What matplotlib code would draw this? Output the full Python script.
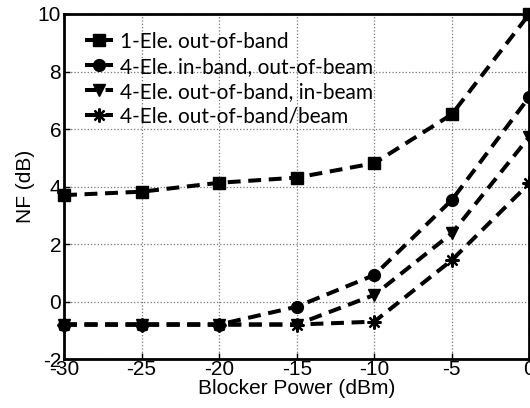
import matplotlib
matplotlib.use('Agg')
import matplotlib.pyplot as plt

# blocker power sweep (dBm)
power = [-30, -25, -20, -15, -10, -5, 0]

nf_1ele_oob = [3.70, 3.82, 4.13, 4.31, 4.81, 6.51, 10.0]
nf_4ele_ib_oobeam = [-0.8, -0.8, -0.8, -0.18, 0.92, 3.53, 7.12]
nf_4ele_oob_ibeam = [-0.8, -0.8, -0.8, -0.8, 0.23, 2.37, 5.73]
nf_4ele_oob_oobeam = [-0.8, -0.8, -0.8, -0.8, -0.70, 1.44, 4.11]

labels = ['1-Ele. out-of-band',
          '4-Ele. in-band, out-of-beam',
          '4-Ele. out-of-band, in-beam',
          '4-Ele. out-of-band/beam']
markers = ['s', 'o', 'v', (8, 2, 0)]
xticks = [-30, -25, -20, -15, -10, -5, 0]
yticks = [-2, 0, 2, 4, 6, 8, 10]

plt.rcParams['font.family'] = ['Liberation Sans', 'DejaVu Sans']
plt.rcParams['axes.unicode_minus'] = False

fig = plt.figure(figsize=(5.3, 4.08), dpi=100)
ax = fig.add_axes([0.1208, 0.120, 0.878, 0.8457])

series = [nf_1ele_oob, nf_4ele_ib_oobeam, nf_4ele_oob_ibeam, nf_4ele_oob_oobeam]
for vals, lab, mk in zip(series, labels, markers):
    if isinstance(mk, tuple):
        ms, mew = 10, 1.6
    else:
        ms, mew = 8.5, 1.0
    ax.plot(power, vals, color='black', linestyle=(0, (3.2, 1.9)), linewidth=2.9,
            marker=mk, markersize=ms, markeredgewidth=mew, label=lab, clip_on=False)

ax.set_xlim(-30, 0)
ax.set_ylim(-2, 10)
ax.set_xticks(xticks)
ax.set_yticks(yticks)
ax.tick_params(direction='in', length=4, width=1, labelsize=15, pad=2)
ax.tick_params(axis='x', pad=1)
ax.grid(True, linestyle=':', color='#777777', linewidth=0.9)
for s in ax.spines.values():
    s.set_linewidth(2)

ax.set_xlabel('Blocker Power (dBm)', fontsize=15, labelpad=0)
ax.set_ylabel('NF (dB)', fontsize=15, labelpad=2)

leg = ax.legend(loc='upper left', bbox_to_anchor=(0.008, 1.0), frameon=False,
                handlelength=1.3, handletextpad=0.35,
                labelspacing=0.24, borderaxespad=0.45, borderpad=0.4,
                prop={'family': ['Lato', 'DejaVu Sans'], 'size': 15})

fig.savefig('out.png', dpi=100)
